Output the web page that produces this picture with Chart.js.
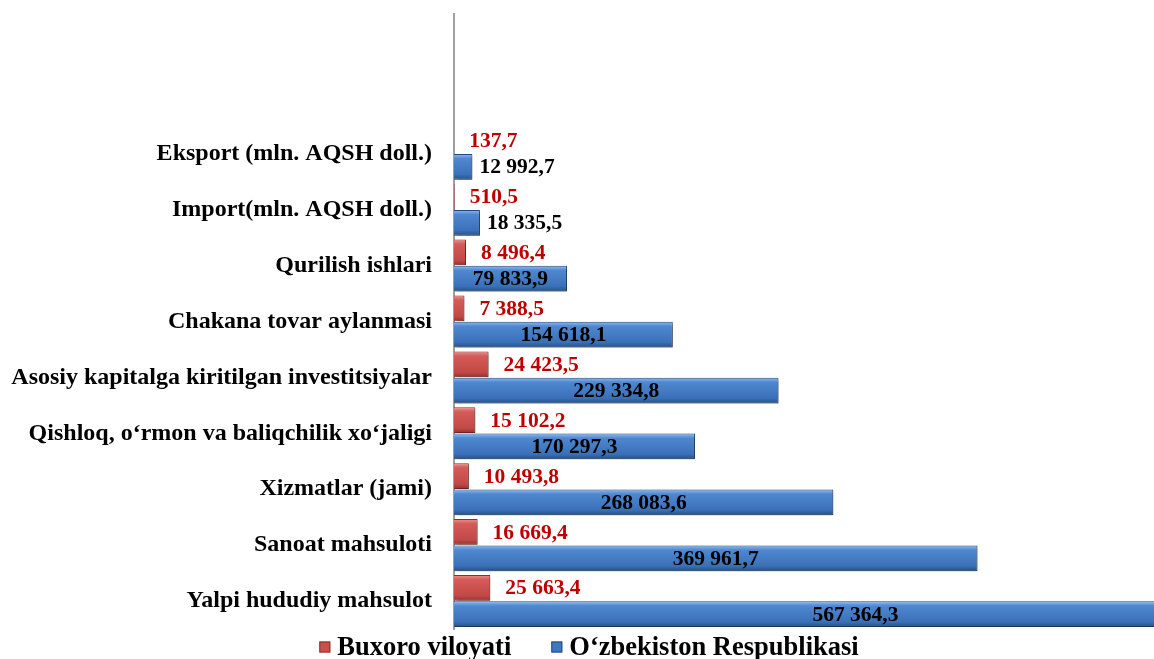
<!DOCTYPE html>
<html>
<head>
  <title>Buxoro viloyati va O'zbekiston</title>
  <script src="https://cdn.jsdelivr.net/npm/chart.js"></script>
  <style>
    html, body {
      margin: 0;
      padding: 0;
      background: #fff;
    }
    #wrap {
      width: 1154px;
      height: 659px;
    }
  </style>
</head>
<body>
  <div id="wrap"><canvas id="chart"></canvas></div>

  <script>
    // categories, top to bottom (two empty slots above, as in the original)
    const categories = [
      '', '',
      'Eksport (mln. AQSH doll.)',
      'Import(mln. AQSH doll.)',
      'Qurilish ishlari',
      'Chakana tovar aylanmasi',
      'Asosiy kapitalga kiritilgan investitsiyalar',
      'Qishloq, o‘rmon va baliqchilik xo‘jaligi',
      'Xizmatlar (jami)',
      'Sanoat mahsuloti',
      'Yalpi hududiy mahsulot'
    ];
    const buxoro = [null, null, 137.7, 510.5, 8496.4, 7388.5, 24423.5, 15102.2, 10493.8, 16669.4, 25663.4];
    const uzbekiston = [null, null, 12992.7, 18335.5, 79833.9, 154618.1, 229334.8, 170297.3, 268083.6, 369961.7, 567364.3];
    const seriesNames = ['Buxoro viloyati', 'O‘zbekiston Respublikasi'];
    const seriesColors = ['#c9504d', '#4078c0'];

    const CAT_PCT = 0.94;
    const BAR_PCT = 0.98;

    function fmt(v) {
      const parts = v.toFixed(1).split('.');
      return parts[0].replace(/\B(?=(\d{3})+(?!\d))/g, ' ') + ',' + parts[1];
    }

    // vertical gradient for every bar, like the bevelled Excel bars
    function barFill(stops, solid) {
      return function (ctx) {
        const chart = ctx.chart;
        const ys = chart.scales && chart.scales.y;
        if (!chart.chartArea || !ys || ctx.type !== 'data') return solid;
        const band = (ys.bottom - ys.top) / categories.length;
        const yc = ys.getPixelForValue(ctx.dataIndex);
        const cat = band * CAT_PCT;
        const thick = cat / 2 * BAR_PCT;
        const center = ctx.datasetIndex === 0 ? yc - cat / 4 : yc + cat / 4;
        const g = chart.ctx.createLinearGradient(0, center - thick / 2, 0, center + thick / 2);
        stops.forEach(s => g.addColorStop(s[0], s[1]));
        return g;
      };
    }

    const redStops = [[0, '#f0908d'], [0.18, '#d45b57'], [0.8, '#c24a46'], [1, '#96302d']];
    const blueStops = [[0, '#8dbcf0'], [0.18, '#4f88d0'], [0.8, '#3a70b8'], [1, '#234f8a']];

    const barLook = {
      id: 'barLook',
      beforeDatasetsDraw(chart) {
        const c = chart.ctx;
        c.save();
        c.shadowColor = 'rgba(0,0,0,0.35)';
        c.shadowBlur = 3;
        c.shadowOffsetX = 2;
        c.shadowOffsetY = 2;
      },
      afterDatasetsDraw(chart) {
        const c = chart.ctx;
        c.restore();
        c.save();
        c.font = 'bold 21.5px "Liberation Serif"';
        c.textBaseline = 'middle';
        chart.data.datasets.forEach((ds, di) => {
          const meta = chart.getDatasetMeta(di);
          meta.data.forEach((bar, i) => {
            const v = ds.data[i];
            if (v == null) return;
            const txt = fmt(v);
            const w = c.measureText(txt).width;
            if (di === 0) {
              c.fillStyle = '#c00000';
              c.textAlign = 'left';
              c.fillText(txt, bar.x + 15, bar.y + 1);
            } else {
              c.fillStyle = '#000';
              if (bar.x - bar.base > w + 12) {
                c.textAlign = 'center';
                c.fillText(txt, (bar.x + bar.base) / 2, bar.y + 1);
              } else {
                c.textAlign = 'left';
                c.fillText(txt, bar.x + 7, bar.y + 1);
              }
            }
          });
        });
        c.restore();
      },
      // legend drawn by hand so box/text spacing matches the original
      afterDraw(chart) {
        const c = chart.ctx;
        c.save();
        c.font = 'bold 26.5px "Liberation Serif"';
        c.textBaseline = 'middle';
        c.textAlign = 'left';
        const y = 647;
        const box = 11;
        const gapText = 7;
        const gapItem = 40;
        const widths = chart.data.datasets.map(ds => box + gapText + c.measureText(ds.label).width);
        const total = widths.reduce((a, b) => a + b, 0) + gapItem * (widths.length - 1);
        let x = 589 - total / 2;
        chart.data.datasets.forEach((ds, k) => {
          c.fillStyle = seriesColors[k];
          c.strokeStyle = k === 0 ? '#8c2f2c' : '#1f4a80';
          c.lineWidth = 1;
          c.fillRect(x, y - box / 2, box, box);
          c.strokeRect(x + 0.5, y - box / 2 + 0.5, box - 1, box - 1);
          c.fillStyle = '#000';
          c.fillText(ds.label, x + box + gapText, y + 1);
          x += widths[k] + gapItem;
        });
        c.restore();
      }
    };

    new Chart(document.getElementById('chart'), {
      type: 'bar',
      data: {
        labels: categories,
        datasets: [{
          label: seriesNames[0],
          data: buxoro,
          backgroundColor: barFill(redStops, seriesColors[0]),
          borderColor: '#8c2f2c',
          borderWidth: 1,
          categoryPercentage: CAT_PCT,
          barPercentage: BAR_PCT
        }, {
          label: seriesNames[1],
          data: uzbekiston,
          backgroundColor: barFill(blueStops, seriesColors[1]),
          borderColor: '#1f4a80',
          borderWidth: 1,
          categoryPercentage: CAT_PCT,
          barPercentage: BAR_PCT
        }]
      },
      options: {
        indexAxis: 'y',
        responsive: true,
        maintainAspectRatio: false,
        animation: false,
        layout: { padding: { top: 14, right: 0, left: 0, bottom: 30 } },
        scales: {
          x: {
            display: false,
            min: 0,
            max: 494700
          },
          y: {
            afterFit(scale) {
              scale.width = 454;
              scale.paddingTop = 0;
              scale.paddingBottom = 0;
            },
            grid: { display: false, drawTicks: false },
            border: { display: true, color: '#a0a0a0', width: 2 },
            ticks: {
              autoSkip: false,
              padding: 22,
              color: '#000',
              font: { family: 'Liberation Serif', size: 24, weight: 'bold' }
            }
          }
        },
        plugins: {
          tooltip: { enabled: false },
          legend: { display: false }
        }
      },
      plugins: [barLook]
    });
  </script>
</body>
</html>
